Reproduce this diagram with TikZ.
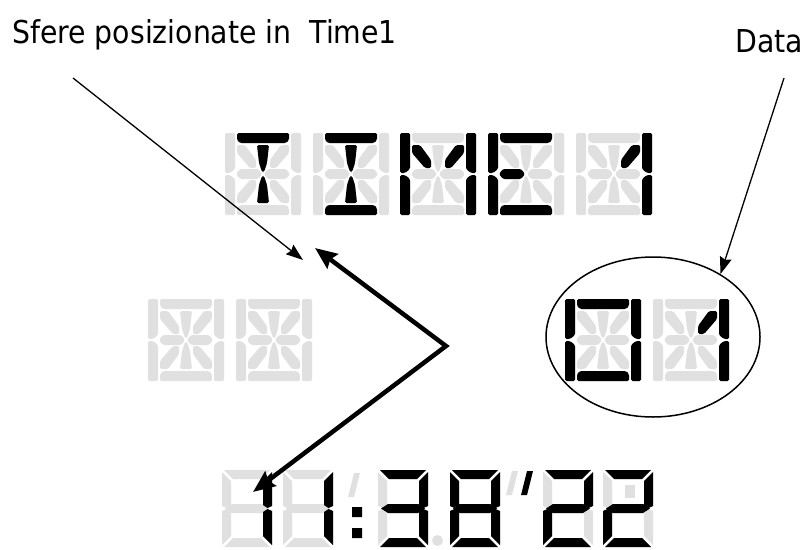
\documentclass[tikz,border=0pt]{standalone}
\usepackage{fontspec}
\setmainfont{DejaVu Sans Condensed}
\usetikzlibrary{arrows.meta,shapes.geometric}
\definecolor{lcdoff}{RGB}{224,224,224}
\definecolor{lcdon}{RGB}{0,0,0}
% 14-segment cells (76 x 82)
\newcommand\sxa{(12,0) -- (64,0) -- (64,7) -- (61,10) -- (15,10) -- (12,7) -- cycle}
\newcommand\sxd{(12,82) -- (64,82) -- (64,75) -- (61,72) -- (15,72) -- (12,75) -- cycle}
\newcommand\sxf{(0,0) -- (10,0) -- (10,36) -- (5,40) -- (0,40) -- cycle}
\newcommand\sxe{(0,42) -- (5,42) -- (10,46) -- (10,82) -- (0,82) -- cycle}
\newcommand\sxb{(76,0) -- (66,0) -- (66,36) -- (71,40) -- (76,40) -- cycle}
\newcommand\sxc{(76,42) -- (71,42) -- (66,46) -- (66,82) -- (76,82) -- cycle}
\newcommand\sxga{(11,41) -- (15,36) -- (33,36) -- (37,41) -- (33,46) -- (15,46) -- cycle}
\newcommand\sxgb{(65,41) -- (61,36) -- (43,36) -- (39,41) -- (43,46) -- (61,46) -- cycle}
\newcommand\sxi{(32,12) -- (44,12) -- (42,30) -- (39,39) -- (37,39) -- (34,30) -- cycle}
\newcommand\sxl{(32,70) -- (44,70) -- (42,52) -- (39,43) -- (37,43) -- (34,52) -- cycle}
\newcommand\sxh{(12,12) -- (20,12) -- (31,27) -- (31,35) -- (25,35) -- (12,20) -- cycle}
\newcommand\sxj{(64,12) -- (56,12) -- (45,27) -- (45,35) -- (51,35) -- (64,20) -- cycle}
\newcommand\sxk{(12,70) -- (20,70) -- (31,55) -- (31,47) -- (25,47) -- (12,62) -- cycle}
\newcommand\sxm{(64,70) -- (56,70) -- (45,55) -- (45,47) -- (51,47) -- (64,62) -- cycle}
\newcommand\sxall{\sxa \sxb \sxc \sxd \sxe \sxf \sxga \sxgb \sxh \sxi \sxj \sxk \sxl \sxm}
% 7-segment cells (50 x 77)
\newcommand\sva{(2,0) -- (48,0) -- (39,9) -- (11,9) -- cycle}
\newcommand\svb{(50,2) -- (50,36) -- (45.5,38) -- (41,35) -- (41,11) -- cycle}
\newcommand\svc{(50,75) -- (50,41) -- (45.5,39) -- (41,42) -- (41,66) -- cycle}
\newcommand\svd{(2,77) -- (48,77) -- (39,68) -- (11,68) -- cycle}
\newcommand\sve{(0,75) -- (0,41) -- (4.5,39) -- (9,42) -- (9,66) -- cycle}
\newcommand\svf{(0,2) -- (0,36) -- (4.5,38) -- (9,35) -- (9,11) -- cycle}
\newcommand\svg{(3,38.5) -- (10,34) -- (40,34) -- (47,38.5) -- (40,43) -- (10,43) -- cycle}
\newcommand\svall{\sva \svb \svc \svd \sve \svf \svg}
\newcommand\alnum[3]{\begin{scope}[shift={(#1,#2)},rounded corners=1.5pt]
  \fill[lcdoff] \sxall; \fill[lcdon] #3;\end{scope}}
\newcommand\sevenseg[3]{\begin{scope}[shift={(#1,#2)}]
  \fill[lcdoff] \svall; \fill[lcdon] #3;\end{scope}}
\tikzset{
  lbl/.style={font=\fontsize{31.5}{37}\selectfont,inner sep=0pt},
  thinarr/.style={-{Stealth[length=17pt,width=12pt,inset=2pt]},line width=1.3pt},
  fatarr/.style={{Stealth[length=22pt,width=18pt,inset=3pt]}-{Stealth[length=22pt,width=18pt,inset=3pt]},
                 line width=4.5pt},
  tick/.style={fill=lcdoff},
}

\begin{document}
\begin{tikzpicture}[x=1pt,y=-1pt]
  \useasboundingbox (0,0) rectangle (810,549);
  \node[lbl,anchor=base west] (sfere) at (12,43) {Sfere posizionate in\ \ Time1};
  \node[lbl,anchor=base west] (datalbl) at (735,52) {Data};
  % TIME1
  \alnum{225}{133}{\sxa \sxi \sxl}
  \alnum{313}{133}{\sxa \sxi \sxl \sxd}
  \alnum{400}{133}{\sxf \sxe \sxb \sxc \sxh \sxj}
  \alnum{488}{133}{\sxa \sxf \sxe \sxga \sxd}
  \alnum{576}{133}{\sxj \sxb \sxc}
  % middle row
  \alnum{148}{299}{}
  \alnum{236}{299}{}
  \alnum{565}{299}{\sxa \sxb \sxc \sxd \sxe \sxf}
  \alnum{653}{299}{\sxj \sxb \sxc}
  \node[draw,ellipse,line width=1.5pt,minimum width=214pt,minimum height=160pt,inner sep=0pt] (data) at (653,337) {};
  % 11:38''22
  \sevenseg{222}{470}{\svb \svc}
  \sevenseg{283}{470}{\svb \svc}
  \fill[tick] (348,497) -- (354,497) -- (360,473) -- (354,473) -- cycle;
  \fill[lcdon] (352,507) rectangle (362,517) (352,528) rectangle (362,538);
  \sevenseg{378}{470}{\sva \svb \svc \svd \svg}
  \fill[tick] (437.5,540.5) circle (5.5);
  \sevenseg{450}{470}{\svall}
  \fill[tick] (506,495) -- (512,495) -- (518,471) -- (512,471) -- cycle;
  \fill[lcdon] (521,495) -- (527,495) -- (533,471) -- (527,471) -- cycle;
  \sevenseg{543}{470}{\sva \svb \svg \sve \svd}
  \sevenseg{603}{470}{\sva \svb \svg \sve \svd}
  \fill[tick] (625,485) rectangle (635,498);
  % arrows
  \coordinate (s0) at (73,78);
  \coordinate (s1) at (303,260);
  \coordinate (d0) at (784,78);
  \coordinate (v) at (446,346);
  \coordinate (up) at (315,248);
  \coordinate (dn) at (253,492);
  \draw[thinarr] (s0) -- (s1);
  \draw[thinarr] (d0) -- (data.43);
  \draw[fatarr] (up) -- (v) -- (dn);
\end{tikzpicture}
\end{document}
